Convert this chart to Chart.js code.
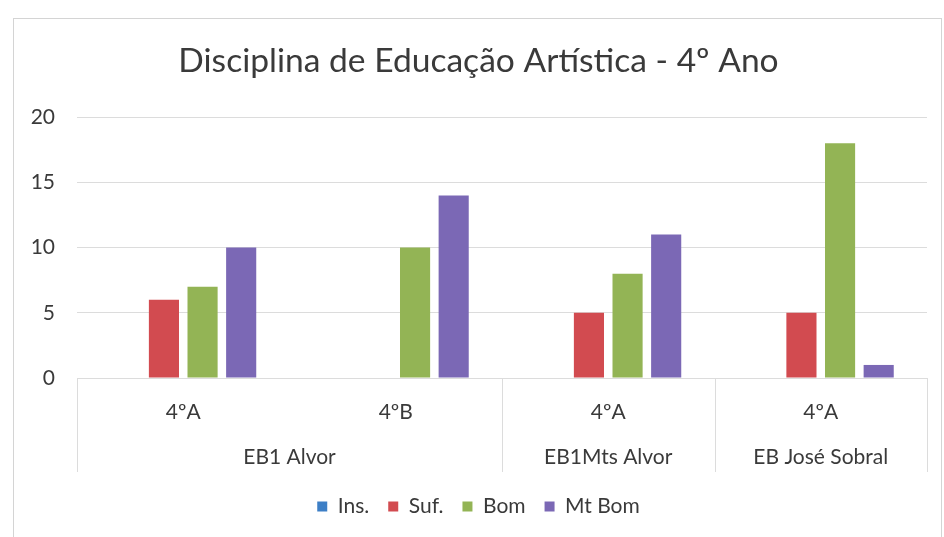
<!DOCTYPE html>
<html>
<head>
<meta charset="utf-8">
<script src="https://cdn.jsdelivr.net/npm/chart.js@4/dist/chart.umd.min.js"></script>
<style>
  html, body { margin: 0; padding: 0; background: #ffffff; }
  #wrap { width: 944px; height: 537px; position: relative; }
</style>
</head>
<body>
<div id="wrap"><canvas id="c"></canvas></div>
<script>
const titleText = 'Disciplina de Educação Artística - 4º Ano';
const categories = ['4ºA', '4ºB', '4ºA', '4ºA'];
const groups = ['EB1 Alvor', 'EB1Mts Alvor', 'EB José Sobral'];
const groupSpans = [2, 1, 1];
const seriesNames = ['Ins.', 'Suf.', 'Bom', 'Mt Bom'];
const insValues = [0, 0, 0, 0];
const sufValues = [6, 0, 5, 5];
const bomValues = [7, 10, 8, 18];
const mtBomValues = [10, 14, 11, 1];
const yTickValues = [0, 5, 10, 15, 20];

const colors = ['#3d7fc6', '#d24b50', '#93b455', '#7b68b5'];
const FONT = 'Lato, "Open Sans", sans-serif';
const textColor = '#3a3a3a';
const gridColor = '#dcdcdc';

// group centers / boundaries in category index units
const groupCenters = [];
const groupBounds = [-0.5];
let start = 0;
groupSpans.forEach(s => {
  groupCenters.push(start + (s - 1) / 2);
  start += s;
  groupBounds.push(start - 0.5);
});

const framePlugin = {
  id: 'frame',
  beforeDraw(chart) {
    const ctx = chart.ctx;
    ctx.save();
    ctx.fillStyle = '#ffffff';
    ctx.fillRect(0, 0, chart.width, chart.height);
    ctx.strokeStyle = '#d4d4d4';
    ctx.lineWidth = 1;
    ctx.strokeRect(13.5, 18.5, 928, 540);
    ctx.restore();
  },
  afterDraw(chart) {
    const x2 = chart.scales.x2;
    const ctx = chart.ctx;
    const top = chart.chartArea.bottom;
    const bottom = top + 94;
    ctx.save();
    ctx.strokeStyle = gridColor;
    ctx.lineWidth = 1;
    groupBounds.forEach(b => {
      const px = Math.round(x2.getPixelForValue(b)) + 0.5;
      ctx.beginPath();
      ctx.moveTo(px, top);
      ctx.lineTo(px, bottom);
      ctx.stroke();
    });
    ctx.restore();
  }
};

const seriesValues = [insValues, sufValues, bomValues, mtBomValues];

new Chart(document.getElementById('c'), {
  type: 'bar',
  data: {
    labels: categories,
    datasets: seriesNames.map((name, i) => ({
      label: name,
      data: seriesValues[i],
      backgroundColor: colors[i],
      borderWidth: 0,
      categoryPercentage: 0.727,
      barPercentage: 0.78,
      xAxisID: 'x',
      yAxisID: 'y'
    }))
  },
  options: {
    responsive: true,
    maintainAspectRatio: false,
    animation: false,
    layout: { padding: { left: 30, right: 17, top: 0, bottom: 10 } },
    plugins: {
      title: {
        display: true,
        text: titleText,
        color: textColor,
        font: { family: FONT, size: 33.6, weight: 'normal' },
        padding: { top: 41, bottom: 35.8 }
      },
      legend: {
        display: true,
        position: 'bottom',
        labels: {
          color: textColor,
          font: { family: FONT, size: 21 },
          boxWidth: 10,
          boxHeight: 10,
          padding: 19
        }
      },
      tooltip: { enabled: false }
    },
    scales: {
      y: {
        min: 0,
        max: 20,
        afterBuildTicks: axis => { axis.ticks = yTickValues.map(v => ({ value: v })); },
        afterFit: axis => { axis.width = 47; },
        ticks: { color: textColor, font: { family: FONT, size: 21 }, padding: 22 },
        grid: { color: gridColor, drawTicks: false },
        border: { display: false }
      },
      x: {
        type: 'category',
        position: 'bottom',
        afterFit: axis => { axis.height = 50; },
        ticks: { color: textColor, font: { family: FONT, size: 21 }, padding: 22, autoSkip: false, maxRotation: 0 },
        grid: { display: false, drawTicks: false },
        border: { display: true, color: gridColor, width: 1 }
      },
      x2: {
        type: 'linear',
        position: 'bottom',
        offset: false,
        min: -0.5,
        max: categories.length - 0.5,
        afterBuildTicks: axis => { axis.ticks = groupCenters.map(v => ({ value: v })); },
        afterFit: axis => { axis.height = 49; },
        ticks: {
          color: textColor,
          font: { family: FONT, size: 21 },
          padding: 17,
          autoSkip: false,
          maxRotation: 0,
          callback: (value, index) => groups[index]
        },
        grid: { display: false, drawTicks: false, offset: false },
        border: { display: false }
      }
    }
  },
  plugins: [framePlugin]
});
</script>
</body>
</html>
